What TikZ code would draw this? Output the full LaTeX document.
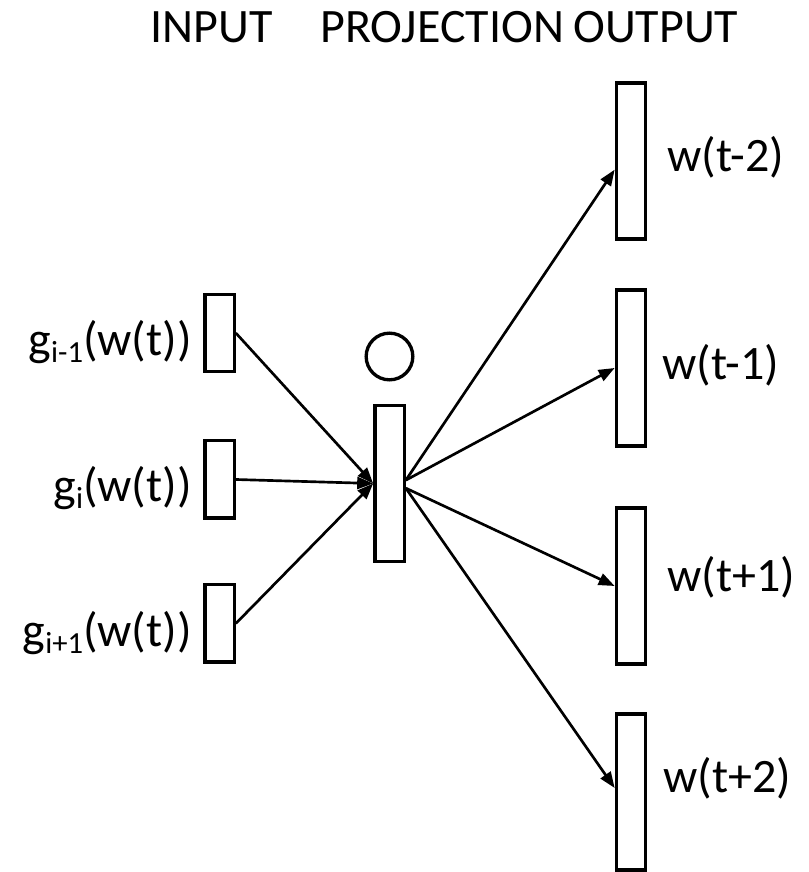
\documentclass[tikz,border=0pt]{standalone}
\usepackage{fontspec}
\setmainfont{Carlito}
\usetikzlibrary{arrows.meta}
\newcommand{\subidx}[1]{\raisebox{-5pt}{\fontsize{23}{24}\selectfont #1}}

\begin{document}
\begin{tikzpicture}[
  x=0.75pt,y=0.75pt,
  font=\fontsize{36}{42}\selectfont,
  vec/.style={draw,line width=2.5pt,minimum width=22pt,inner sep=0pt},
  inbox/.style={vec,minimum height=58pt},
  longbox/.style={vec,minimum height=117pt},
  lbl/.style={inner sep=0pt},
  ar/.style={-{Triangle[length=12pt,width=9pt]},line width=2pt}
]
\useasboundingbox (0,0) rectangle (808,872);
% headers
\node[lbl,anchor=base west] (hin) at (150,829) {INPUT};
\node[lbl,anchor=base west] (hproj) at (320,829) {PROJECTION};
\node[lbl,anchor=base west] (hout) at (573,829) {OUTPUT};
% input column
\node[inbox] (in1) at (219.5,539) {};
\node[inbox] (in2) at (219.5,392.5) {};
\node[inbox] (in3) at (219.5,248.5) {};
\node[lbl,anchor=base east] (g1) at (192,516) {g\subidx{i-1}(w(t))};
\node[lbl,anchor=base east] (g2) at (192,370) {g\subidx{i}(w(t))};
\node[lbl,anchor=base east] (g3) at (192,225) {g\subidx{i+1}(w(t))};
% projection
\node[longbox] (proj) at (389.5,388.5) {};
\node[draw,circle,line width=2.5pt,minimum size=35pt,inner sep=0pt] (bias) at (389.5,515.5) {};
% output column
\node[longbox] (out1) at (631,711) {};
\node[longbox] (out2) at (631,504) {};
\node[longbox] (out3) at (631,286) {};
\node[longbox] (out4) at (631,80) {};
\node[lbl,anchor=base west] (w1) at (667,700) {w(t-2)};
\node[lbl,anchor=base west] (w2) at (662,492) {w(t-1)};
\node[lbl,anchor=base west] (w3) at (667,280) {w(t+1)};
\node[lbl,anchor=base west] (w4) at (663,79) {w(t+2)};
% connections
\draw[ar] (in1.east) -- (proj.west);
\draw[ar] (in2.east) -- (proj.west);
\draw[ar] (in3.east) -- (proj.west);
\draw[ar] ([yshift=2.5pt]proj.east) -- ([yshift=-6.5pt]out1.west);
\draw[ar] ([yshift=2.5pt]proj.east) -- (out2.west);
\draw[ar] ([yshift=-3.5pt]proj.east) -- (out3.west);
\draw[ar] ([yshift=-3.5pt]proj.east) -- ([yshift=3pt]out4.west);
\end{tikzpicture}
\end{document}
